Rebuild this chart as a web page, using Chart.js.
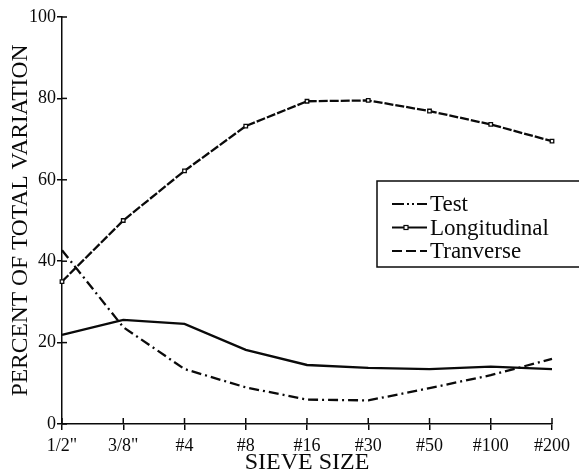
<!DOCTYPE html>
<html>
<head>
<meta charset="utf-8">
<script src="https://cdn.jsdelivr.net/npm/chart.js@4/dist/chart.umd.min.js"></script>
<style>
  html, body { margin: 0; padding: 0; background: #fff; }
  #wrap { width: 579px; height: 472px; position: relative; }
</style>
</head>
<body>
<div id="wrap"><canvas id="sieveChart"></canvas></div>
<script>
// Data
const sieveSizes = ['1/2"', '3/8"', '#4', '#8', '#16', '#30', '#50', '#100', '#200'];
const testValues = [42.7, 23.8, 13.5, 9, 6, 5.8, 8.8, 12, 16];
const longitudinalValues = [35, 50, 62.2, 73.2, 79.3, 79.5, 76.9, 73.6, 69.5];
const tranverseValues = [21.9, 25.6, 24.6, 18.2, 14.5, 13.8, 13.5, 14.1, 13.5];
const yTicks = [0, 20, 40, 60, 80, 100];

const ink = '#0a0a0a';
const serif = "'Liberation Serif', 'DejaVu Serif', serif";

Chart.defaults.color = ink;
Chart.defaults.font.family = serif;

// ticks cross the axis line: add the short inner part of each tick
const innerTicks = {
    id: 'innerTicks',
    afterDraw(chart) {
        const c = chart.ctx;
        const x = chart.scales.x, y = chart.scales.y;
        c.save();
        c.strokeStyle = ink;
        c.lineWidth = 1.5;
        y.ticks.forEach((t, i) => {
            const py = y.getPixelForTick(i);
            c.beginPath(); c.moveTo(y.right, py); c.lineTo(y.right + 5, py); c.stroke();
        });
        x.ticks.forEach((t, i) => {
            const px = x.getPixelForTick(i);
            c.beginPath(); c.moveTo(px, x.top); c.lineTo(px, x.top - 6); c.stroke();
        });
        c.restore();
    }
};

// the printed legend shows its own line samples (they differ from the plotted lines)
const legendSamples = {
    'Test': { dash: [12, 3, 2, 3, 2, 3], marker: false },
    'Longitudinal': { dash: [], marker: true },
    'Tranverse': { dash: [10, 4], marker: false }
};

// boxed legend drawn in the right middle of the plot
const boxLegend = {
    id: 'boxLegend',
    afterDraw(chart) {
        const c = chart.ctx;
        const left = 377, top = 181, w = 206, h = 86;
        c.save();
        c.strokeStyle = ink;
        c.lineWidth = 1.5;
        c.fillStyle = '#fff';
        c.fillRect(left, top, w, h);
        c.strokeRect(left, top, w, h);
        c.font = "23px " + serif;
        c.textBaseline = 'middle';
        chart.data.datasets.forEach((ds, i) => {
            const cy = top + 23 + i * 23.5;
            const s = legendSamples[ds.label];
            c.strokeStyle = ink;
            c.lineWidth = 2;
            c.setLineDash(s.dash);
            c.beginPath(); c.moveTo(392, cy); c.lineTo(427, cy); c.stroke();
            c.setLineDash([]);
            if (s.marker) {
                c.fillStyle = '#fff';
                c.lineWidth = 1.2;
                c.fillRect(404, cy - 2, 4, 4);
                c.strokeRect(404, cy - 2, 4, 4);
            }
            c.fillStyle = ink;
            c.fillText(ds.label, 430, cy + 1);
        });
        c.restore();
    }
};

new Chart(document.getElementById('sieveChart'), {
    type: 'line',
    data: {
        labels: sieveSizes,
        datasets: [
            {
                label: 'Test',
                data: testValues,
                borderColor: ink,
                borderWidth: 2.3,
                borderDash: [10, 4, 2, 4],
                pointRadius: 0
            },
            {
                label: 'Longitudinal',
                data: longitudinalValues,
                borderColor: ink,
                borderWidth: 2.3,
                borderDash: [9, 2],
                pointStyle: 'rect',
                pointRadius: 2.5,
                pointBackgroundColor: '#fff',
                pointBorderColor: ink,
                pointBorderWidth: 1.3
            },
            {
                label: 'Tranverse',
                data: tranverseValues,
                borderColor: ink,
                borderWidth: 2.3,
                pointRadius: 0
            }
        ]
    },
    options: {
        responsive: true,
        maintainAspectRatio: false,
        animation: false,
        layout: { padding: { top: 17, right: 27, left: 0, bottom: 0 } },
        plugins: {
            legend: { display: false },
            tooltip: { enabled: false }
        },
        scales: {
            x: {
                offset: false,
                grid: { drawOnChartArea: false, color: ink, lineWidth: 1.5, tickLength: 6 },
                border: { color: ink, width: 1.5 },
                ticks: { color: ink, font: { size: 18 }, padding: 5, maxRotation: 0, autoSkip: false },
                title: { display: true, text: 'SIEVE SIZE', color: ink, font: { size: 24, lineHeight: 1 }, padding: { top: 0, bottom: -3 } },
                afterFit(scale) { scale.height = 48; }
            },
            y: {
                min: 0,
                max: 100,
                afterBuildTicks(scale) { scale.ticks = yTicks.map(v => ({ value: v })); },
                grid: { drawOnChartArea: false, color: ink, lineWidth: 1.5, tickLength: 5 },
                border: { color: ink, width: 1.5 },
                ticks: { color: ink, font: { size: 18 }, padding: 1 },
                title: { display: true, text: 'PERCENT OF TOTAL VARIATION', color: ink, font: { size: 23.5 }, padding: { top: 7, bottom: 0 } },
                afterFit(scale) { scale.width = 62; }
            }
        }
    },
    plugins: [innerTicks, boxLegend]
});
</script>
</body>
</html>
